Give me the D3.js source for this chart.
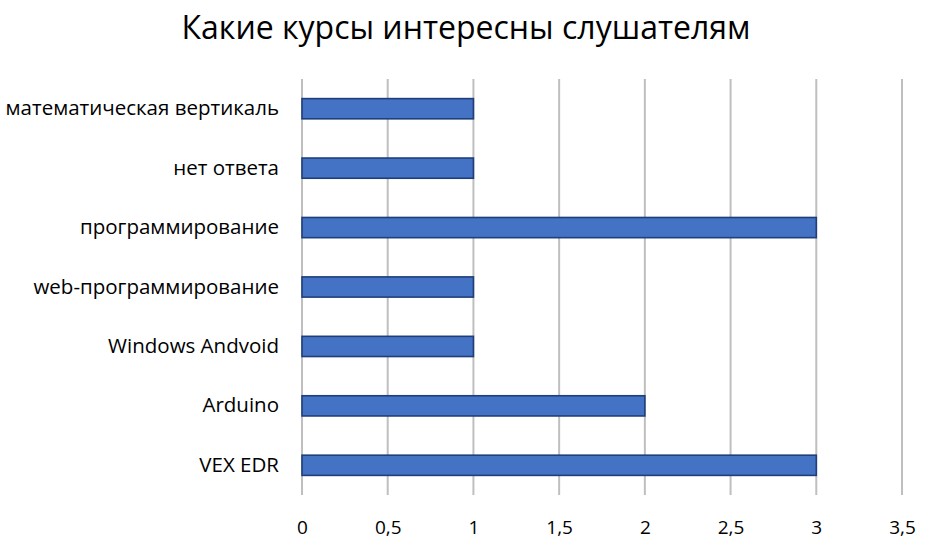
<!DOCTYPE html>
<html>
<head>
<meta charset="utf-8">
<script src="https://cdn.jsdelivr.net/npm/d3@7"></script>
<style>
  body { margin: 0; background: #fff; }
  text { font-family: "Open Sans", sans-serif; fill: #000; }
</style>
</head>
<body>
<div id="chart"></div>
<script>
// courses, top to bottom as in the picture
var courses = ["математическая вертикаль", "нет ответа", "программирование",
  "web-программирование", "Windows Andvoid", "Arduino", "VEX EDR"];
var listeners = [1, 1, 3, 1, 1, 2, 3];
var xTicks = [0, 0.5, 1, 1.5, 2, 2.5, 3, 3.5];

var width = 932, height = 552,
    margin = {top: 79, right: 30, bottom: 57, left: 302};

var x = d3.scaleLinear().domain([0, 3.5]).range([margin.left, width - margin.right]);
var y = d3.scaleBand().domain(courses).range([margin.top, height - margin.bottom]).paddingInner(0.66).paddingOuter(0.33);

var svg = d3.select("#chart").append("svg")
    .attr("width", width)
    .attr("height", height);

svg.append("text")
    .attr("x", 466)
    .attr("y", 39)
    .attr("text-anchor", "middle")
    .style("font-size", "32px")
    .text("Какие курсы интересны слушателям");

// vertical gridlines
svg.append("g")
  .selectAll("line")
    .data(xTicks)
    .enter()
    .append("line")
    .attr("x1", function(d) { return x(d); })
    .attr("x2", function(d) { return x(d); })
    .attr("y1", margin.top)
    .attr("y2", height - margin.bottom)
    .attr("stroke", "#bfbfbf")
    .attr("stroke-width", 2);

svg.append("g")
  .selectAll("rect")
    .data(courses)
    .enter()
    .append("rect")
    .attr("x", x(0))
    .attr("y", function(d) { return y(d); })
    .attr("width", function(d, i) { return x(listeners[i]) - x(0); })
    .attr("height", y.bandwidth())
    .attr("fill", "#4472c4")
    .attr("stroke", "#203f7a")
    .attr("stroke-width", 1.6);

// x axis labels
var xAxis = d3.axisBottom(x).tickValues(xTicks).tickSize(0).tickPadding(0)
    .tickFormat(function(d) { return String(d).replace(".", ","); });
var gx = svg.append("g")
    .attr("transform", "translate(0," + (height - margin.bottom) + ")")
    .call(xAxis);
gx.select(".domain").remove();
gx.selectAll("text").attr("dy", null).attr("y", 39).style("font-size", "19px").style("font-family", null);

// category labels
var yAxis = d3.axisLeft(y).tickSize(0).tickPadding(23);
var gy = svg.append("g")
    .attr("transform", "translate(" + margin.left + ",0)")
    .call(yAxis);
gy.select(".domain").remove();
gy.selectAll("text").style("font-size", "20.5px").style("font-family", null);
</script>
</body>
</html>
